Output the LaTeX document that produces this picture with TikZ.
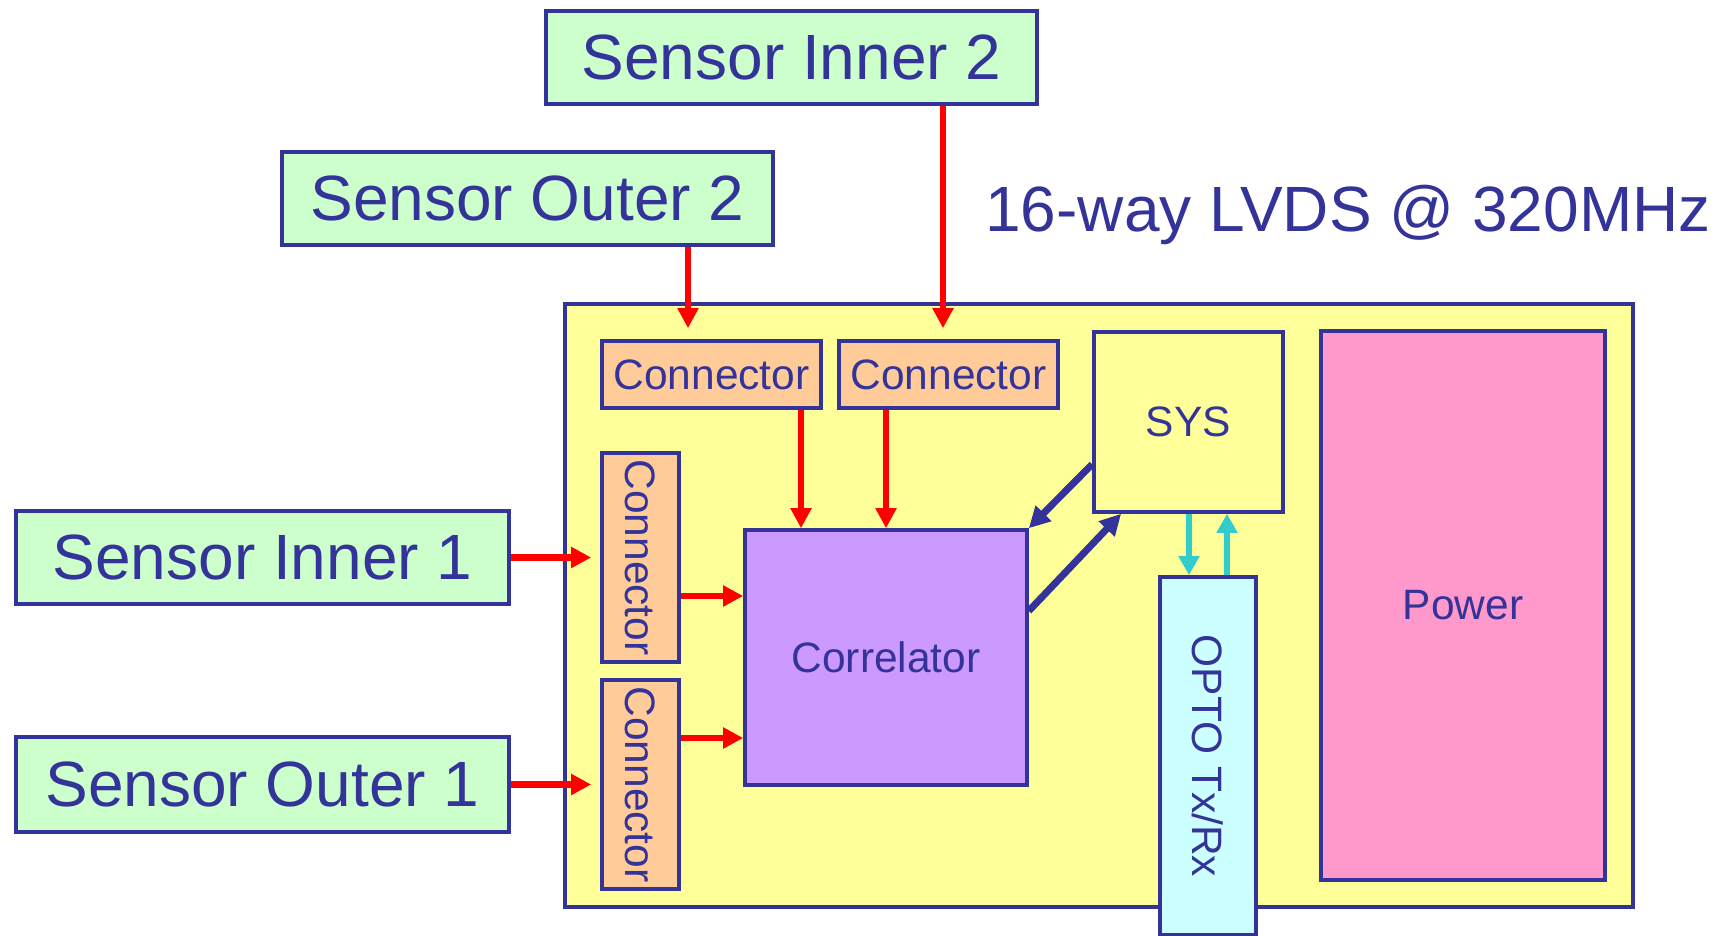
\documentclass[tikz,border=0pt]{standalone}
\usepackage{fontspec}
\setmainfont{Liberation Sans}
\usetikzlibrary{arrows.meta, positioning, calc}
\definecolor{mynavy}{RGB}{51,51,153}
\definecolor{myred}{RGB}{255,0,0}
\definecolor{mycyan}{RGB}{51,204,204}
\definecolor{hdrgreen}{RGB}{204,255,204}
\definecolor{hdryellow}{RGB}{255,255,153}
\definecolor{hdrorange}{RGB}{255,204,153}
\definecolor{hdrpurple}{RGB}{204,153,255}
\definecolor{hdrcyan}{RGB}{204,255,255}
\definecolor{hdrpink}{RGB}{255,153,204}
\newcommand{\bigtxt}{\fontsize{64}{72}\selectfont}
\newcommand{\smalltxt}{\fontsize{42.5}{48}\selectfont}
\tikzset{
  box/.style={rectangle, draw=mynavy, line width=3.6pt, inner sep=0pt,
    text=mynavy, font=\smalltxt},
  sensor/.style={box, fill=hdrgreen, minimum width=491pt,
    minimum height=93pt, font=\bigtxt},
  hconn/.style={box, fill=hdrorange, minimum width=219pt, minimum height=67pt},
  vconn/.style={box, fill=hdrorange, minimum width=77pt, minimum height=209pt,
    label={[rotate=-90, text=mynavy, font=\smalltxt]center:Connector}},
  redarrow/.style={-{Triangle[length=20pt, width=20pt]}, line width=6.5pt, color=myred},
  navyarrow/.style={-{Triangle[length=21pt, width=21pt]}, line width=7pt, color=mynavy},
  cyanarrow/.style={-{Triangle[length=19pt, width=20pt]}, line width=6pt, color=mycyan}
}

\begin{document}
\begin{tikzpicture}[x=1pt, y=-1pt]
  \useasboundingbox (0,0) rectangle (1726,936);
  % board
  \node[box, fill=hdryellow, minimum width=1068pt, minimum height=603pt] (board) at (1099,605.5) {};
  % sensors
  \node[sensor] (si2) at (791.5,57.5) {Sensor Inner 2};
  \node[sensor] (so2) at (527.5,198.5) {Sensor Outer 2};
  \node[sensor, minimum width=493pt] (si1) at (262.5,557.5) {Sensor Inner 1};
  \node[sensor, minimum width=493pt, minimum height=95pt] (so1) at (262.5,784.5) {Sensor Outer 1};
  \node[text=mynavy, font=\bigtxt] (lvds) at (1348,215) {16-way LVDS @ 320MHz};
  % connectors
  \node[hconn] (ctop1) at (711.5,374.5) {Connector};
  \node[hconn] (ctop2) at (948.5,374.5) {Connector};
  \node[vconn] (cleft1) at (640.5,557.5) {};
  \node[vconn] (cleft2) at (640.5,784.5) {};
  % blocks
  \node[box, fill=hdrpurple, minimum width=282pt, minimum height=255pt] (corr) at (886,657.5) {Correlator};
  \node[box, fill=hdryellow, minimum width=189pt, minimum height=180pt] (sys) at (1188.5,422) {SYS};
  \node[box, fill=hdrcyan, minimum width=96pt, minimum height=358pt,
    label={[rotate=-90, text=mynavy, font=\smalltxt]center:OPTO Tx/Rx}] (opto) at (1208,756) {};
  \node[box, fill=hdrpink, minimum width=284pt, minimum height=549pt] (power) at (1463,605.5) {Power};
  % links
  \draw[redarrow, shorten >=11pt] (688,0 |- so2.south) -- (688,0 |- ctop1.north);
  \draw[redarrow, shorten >=11pt] (943,0 |- si2.south) -- (943,0 |- ctop2.north);
  \draw[redarrow] (801,0 |- ctop1.south) -- (801,0 |- corr.north);
  \draw[redarrow] (886,0 |- ctop2.south) -- (886,0 |- corr.north);
  \draw[redarrow, shorten >=9pt] (si1.east) -- (si1.east -| cleft1.west);
  \draw[redarrow, shorten >=9pt] (so1.east) -- (so1.east -| cleft2.west);
  \draw[redarrow] (cleft1.east |- 0,596) -- (corr.west |- 0,596);
  \draw[redarrow] (cleft2.east |- 0,738) -- (corr.west |- 0,738);
  \draw[navyarrow] ($(sys.north west)!0.73!(sys.south west)$) -- (corr.north east);
  \draw[navyarrow] ($(corr.north east)!0.32!(corr.south east)$) -- ($(sys.south west)!0.15!(sys.south east)$);
  \draw[cyanarrow] (1189,0 |- sys.south) -- (1189,0 |- opto.north);
  \draw[cyanarrow] (1227,0 |- opto.north) -- (1227,0 |- sys.south);
\end{tikzpicture}
\end{document}
